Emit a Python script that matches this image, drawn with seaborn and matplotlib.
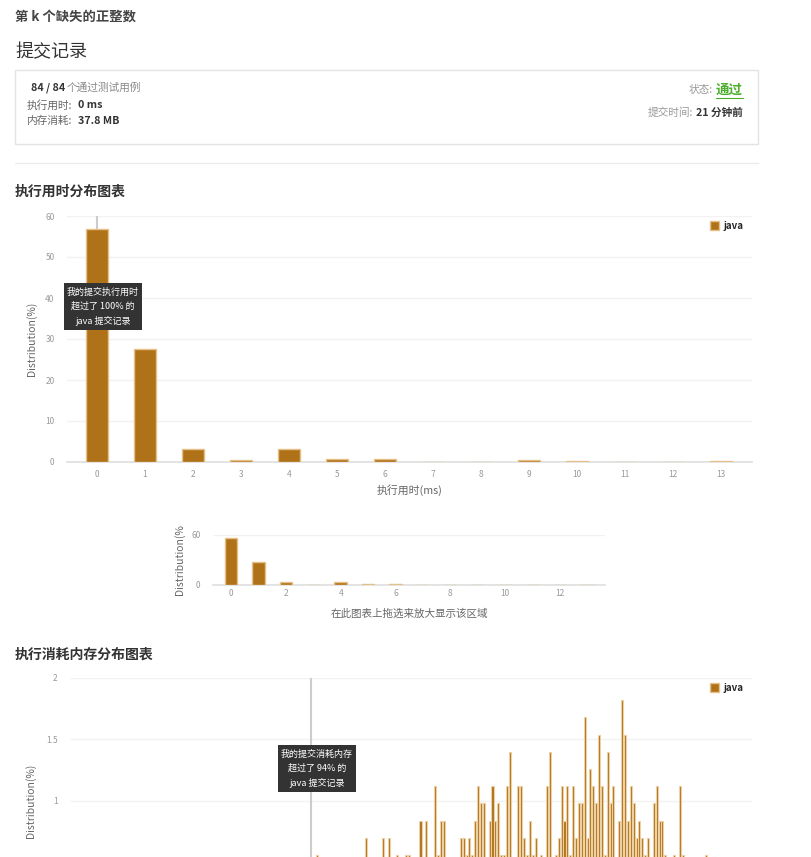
import pandas as pd
import matplotlib.pyplot as plt
import seaborn as sns
from matplotlib.patches import Rectangle, Patch
from matplotlib.lines import Line2D

# ---- data ----
time_ms = [0, 1, 2, 3, 4, 5, 6, 7, 8, 9, 10, 11, 12, 13]
time_pct = [56.8, 27.5, 3.2, 0.6, 3.2, 0.8, 0.8, 0.1, 0.0, 0.5, 0.25, 0.0, 0.0, 0.25]
my_time = 0

mem_mb = [38.0, 39.7, 40.3, 40.5, 40.8, 41.1, 41.2, 41.6, 41.8, 42.1,
          42.2, 42.3, 42.4, 43.0, 43.1, 43.2, 43.3, 43.4, 43.5, 43.6,
          43.7, 43.8, 44.0, 44.1, 44.2, 44.3, 44.4, 44.5, 44.6, 44.7,
          45.0, 45.1, 45.2, 45.3, 45.4, 45.5, 45.6, 45.8, 46.0, 46.1,
          46.3, 46.4, 46.5, 46.6, 46.7, 46.8, 46.9, 47.0, 47.1, 47.2,
          47.3, 47.4, 47.5, 47.6, 47.7, 47.8, 47.9, 48.0, 48.1, 48.2,
          48.3, 48.5, 48.6, 48.7, 48.8, 48.9, 49.0, 49.1, 49.2, 49.3,
          49.4, 49.5, 49.7, 49.8, 49.9, 50.0, 50.1, 50.4, 50.6, 50.7,
          51.5]
mem_pct = [0.56, 0.70, 0.70, 0.70, 0.56, 0.56, 0.56, 0.84, 0.84, 1.12,
           0.56, 0.84, 0.84, 0.70, 0.70, 0.56, 0.70, 0.56, 0.84, 1.12,
           0.98, 0.98, 0.84, 1.12, 0.84, 0.98, 0.56, 0.56, 1.12, 1.40,
           1.12, 1.12, 0.70, 0.56, 0.84, 0.56, 0.70, 0.56, 1.12, 1.40,
           0.56, 0.70, 1.12, 0.84, 1.12, 0.56, 1.12, 0.70, 0.98, 0.98,
           1.68, 0.70, 1.26, 1.12, 0.98, 1.54, 1.12, 0.56, 1.40, 0.98,
           1.12, 0.84, 1.82, 1.54, 0.84, 1.12, 0.98, 0.70, 0.84, 0.70,
           0.56, 0.70, 0.98, 1.12, 0.84, 0.84, 0.56, 0.56, 1.12, 0.56,
           0.56]
my_mem = 37.8

BAR = '#b07219'
EDGE = '#e6c089'
TICK = '#999999'
LABEL = '#666666'

sns.set_theme(style='white')
plt.rcParams['font.family'] = ['Noto Sans CJK SC', 'DejaVu Sans']

W, H = 811, 857
fig = plt.figure(figsize=(W / 100, H / 100), dpi=100)


def add_ax(l, t, r, b):
    return fig.add_axes([l / W, 1 - b / H, (r - l) / W, (b - t) / H])


def ftext(x, y, s, **kw):
    kw.setdefault('va', 'center')
    fig.text(x / W, 1 - y / H, s, **kw)


def tooltip(l, t, r, b, lines):
    fig.add_artist(Rectangle((l / W, 1 - b / H), (r - l) / W, (b - t) / H,
                             transform=fig.transFigure, facecolor='#333333',
                             edgecolor='none', zorder=10))
    cx = (l + r) / 2
    step = (b - t) / (len(lines) + 0.35)
    for i, s in enumerate(lines):
        fig.text(cx / W, 1 - (t + step * (i + 0.68)) / H, s, ha='center', va='center',
                 color='white', fontsize=6.5, zorder=11)


def style_axis(ax, yticks, ylabels):
    ax.set_yticks(yticks)
    ax.set_yticklabels(ylabels)
    ax.grid(axis='y', color='#f2f2f2', lw=1)
    ax.set_axisbelow(True)
    for s in ['top', 'right', 'left']:
        ax.spines[s].set_visible(False)
    ax.spines['bottom'].set_color('#e0e0e0')
    ax.tick_params(axis='y', length=0, pad=9, labelsize=6, labelcolor=TICK)
    ax.tick_params(axis='x', length=3, color='#dddddd', pad=3, labelsize=6, labelcolor=TICK)


def java_legend(ax):
    ax.legend(handles=[Patch(facecolor=BAR, edgecolor=EDGE, label='java')], loc='upper right',
              bbox_to_anchor=(0.995, 1.0), frameon=False, handlelength=0.9, handleheight=0.9,
              handletextpad=0.5, borderpad=0, prop={'weight': 'bold', 'size': 7})


# ---- header ----
ftext(15, 17, '第 k 个缺失的正整数', fontsize=9.6, weight='bold', color='#444444')
ftext(15, 52, '提交记录', fontsize=13, color='#333333')
fig.add_artist(Rectangle((15 / W, 1 - 144 / H), 743 / W, 74 / H, transform=fig.transFigure,
                         facecolor='none', edgecolor='#e3e3e3', lw=1))
ftext(31, 88, '84 / 84', fontsize=7.7, weight='bold', color='#333333')
ftext(67, 88, '个通过测试用例', fontsize=7.7, color='#888888')
ftext(27, 105, '执行用时:', fontsize=7.7, color='#666666')
ftext(78, 105, '0 ms', fontsize=7.7, weight='bold', color='#333333')
ftext(27, 121, '内存消耗:', fontsize=7.7, color='#666666')
ftext(78, 121, '37.8 MB', fontsize=7.7, weight='bold', color='#333333')
ftext(713, 90, '状态:', fontsize=7.7, color='#999999', ha='right')
ftext(743, 90, '通过', fontsize=9.7, weight='bold', color='#4cae2c', ha='right')
fig.add_artist(Line2D([716 / W, 743 / W], [1 - 98 / H, 1 - 98 / H], transform=fig.transFigure,
                      color='#4cae2c', lw=0.8))
ftext(693, 113, '提交时间:', fontsize=7.7, color='#999999', ha='right')
ftext(743, 113, '21 分钟前', fontsize=7.7, weight='bold', color='#333333', ha='right')
fig.add_artist(Line2D([15 / W, 758 / W], [1 - 163 / H, 1 - 163 / H], transform=fig.transFigure,
                      color='#ececec', lw=1))

# ---- runtime chart ----
ftext(15, 192, '执行用时分布图表', fontsize=10, weight='bold', color='#333333')
df_time = pd.DataFrame({'ms': time_ms, 'pct': time_pct})

ax1 = add_ax(67, 216, 752, 462)
sns.barplot(data=df_time, x='ms', y='pct', order=time_ms, color=BAR, saturation=1,
            width=0.46, edgecolor=EDGE, linewidth=1, ax=ax1, zorder=3)
ax1.axvline(time_ms.index(my_time), color='#cccccc', lw=1.5, zorder=1)
ax1.set_xlim(-0.625, 13.65)
ax1.set_ylim(0, 60)
style_axis(ax1, [0, 10, 20, 30, 40, 50, 60], ['0', '10', '20', '30', '40', '50', '60'])
ax1.set_xlabel('执行用时(ms)', fontsize=7.8, color=LABEL)
ax1.xaxis.set_label_coords(0.5, -0.09)
ax1.set_ylabel('Distribution(%)', fontsize=7.5, color=LABEL)
ax1.yaxis.set_label_coords(-0.044, 0.5)
java_legend(ax1)
tooltip(64, 283, 142, 330, ['我的提交执行用时', '超过了 100% 的', 'java 提交记录'])

# ---- overview chart ----
ax2 = add_ax(213, 535, 605, 585)
sns.barplot(data=df_time, x='ms', y='pct', order=time_ms, color=BAR, saturation=1,
            width=0.46, edgecolor=EDGE, linewidth=1, ax=ax2, zorder=3)
ax2.set_xlim(-0.66, 13.64)
ax2.set_ylim(0, 60)
style_axis(ax2, [0, 60], ['0', '60'])
ax2.set_xticks([0, 2, 4, 6, 8, 10, 12])
ax2.set_xticklabels(['0', '2', '4', '6', '8', '10', '12'])
ax2.tick_params(axis='x', length=0)
ax2.set_xlabel('在此图表上拖选来放大显示该区域', fontsize=7.6, color=LABEL)
ax2.xaxis.set_label_coords(0.5, -0.46)
ax2.set_ylabel('Distribution(%', fontsize=7.5, color=LABEL)
ax2.yaxis.set_label_coords(-0.071, 0.5)

# ---- memory chart ----
ftext(15, 655, '执行消耗内存分布图表', fontsize=10, weight='bold', color='#333333')
df_mem = pd.DataFrame({'mb': mem_mb, 'pct': mem_pct})

ax3 = add_ax(70, 678, 752, 924)
sns.barplot(data=df_mem, x='mb', y='pct', native_scale=True, color=BAR, saturation=1,
            width=0.7, edgecolor='#ecd0a6', linewidth=0.8, ax=ax3, zorder=3)
ax3.axvline(my_mem, color='#cccccc', lw=1.5, zorder=1)
ax3.set_xlim(29.43, 53.11)
ax3.set_ylim(0, 2)
# the lower part of this chart is cut off by the page, only 1..2 is visible
style_axis(ax3, [1, 1.5, 2], ['1', '1.5', '2'])
ax3.set_xticks([])
ax3.set_xlabel('')
ax3.set_ylabel('Distribution(%)', fontsize=7.5, color=LABEL)
ax3.yaxis.set_label_coords(-0.05, 0.5)
java_legend(ax3)
tooltip(278, 745, 356, 792, ['我的提交消耗内存', '超过了 94% 的', 'java 提交记录'])

fig.savefig('out.png', dpi=100)
